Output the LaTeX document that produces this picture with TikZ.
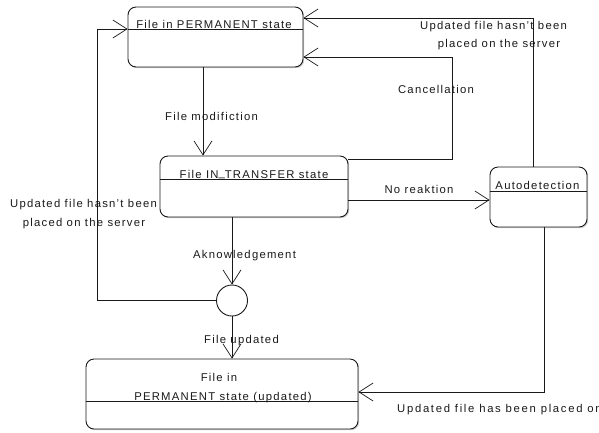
\documentclass[tikz,border=0pt]{standalone}
\usepackage{fontspec}
\setmainfont{Liberation Sans}[LetterSpace=11]
\usetikzlibrary{arrows.meta,shadows}
\begin{document}
\begin{tikzpicture}[x=1pt,y=-1pt,
  font=\fontsize{11.3}{13}\selectfont,
  state/.style={draw=black!90, line width=0.9pt, rounded corners=8pt, inner sep=0pt, fill=white,
    drop shadow={shadow xshift=1.2pt,shadow yshift=-1.2pt,fill=black!50,opacity=0.4}},
  divider/.style={draw=black!90, line width=0.8pt},
  arr/.style={draw=black!90, line width=0.8pt, -{Straight Barb[length=14pt,width=18pt,line width=0.7pt]}},
  lbl/.style={anchor=base, inner sep=0pt, text=black!90}]
\useasboundingbox (0,0) rectangle (599,432);

% helper coordinates
\coordinate (xA) at (203,0);
\coordinate (xB) at (232,0);
\coordinate (cC) at (452,57);
\coordinate (xD) at (533,0);
\coordinate (xE) at (544,0);
\coordinate (cL) at (97,29);
\coordinate (yT) at (0,18);
\coordinate (yC) at (0,159);
\coordinate (yN) at (0,200);
\coordinate (yU) at (0,392);

% states
\node[state, minimum width=175pt, minimum height=60pt] (perm) at (215.5,37) {};
\draw[divider] (perm.west |- 0,29) -- (perm.east |- 0,29);
\node[lbl] (permT) at (214,28.3) {File in PERMANENT state};

\node[state, minimum width=188pt, minimum height=61pt] (trans) at (254,186.5) {};
\draw[divider] (trans.west |- 0,179) -- (trans.east |- 0,179);
\node[lbl] (transT) at (254,178) {File IN\raisebox{1.6pt}{\_}TRANSFER state};

\node[state, minimum width=97pt, minimum height=60pt] (auto) at (538.5,197) {};
\draw[divider] (auto.west |- 0,191) -- (auto.east |- 0,191);
\node[lbl] (autoT) at (537.5,189.5) {Autodetection};

\node[state, minimum width=272pt, minimum height=70pt] (upd) at (222,394) {};
\draw[divider] (upd.west |- 0,401) -- (upd.east |- 0,401);
\node[lbl] (updT1) at (219,381.5) {File in};
\node[lbl] (updT2) at (223,400) {PERMANENT state (updated)};

\node[draw=black!90, circle, minimum size=31pt, inner sep=0pt, line width=0.9pt, fill=white] (junc) at (232,300.5) {};

% connectors
\draw[arr] (perm.south -| xA) -- (trans.north -| xA);
\draw[arr] (trans.east |- yC) -| (cC) -- (perm.east |- cC);
\draw[arr] (auto.north -| xD) |- (perm.east |- yT);
\draw[arr] (trans.east |- yN) -- (auto.west |- yN);
\draw[arr] (trans.south -| xB) -- (junc.north);
\draw[arr] (junc.west) -| (cL) -- (perm.west |- cL);
\draw[arr] (junc.south) -- (upd.north -| xB);
\draw[arr] (auto.south -| xE) |- (upd.east |- yU);

% labels
\node[lbl] (l1) at (211.5,120) {File modifiction};
\node[lbl] (l2) at (436,93) {Cancellation};
\node[lbl] (l3a) at (493.5,29) {Updated file hasn't been};
\node[lbl] (l3b) at (499,47) {placed on the server};
\node[lbl] (l4) at (419,193) {No reaktion};
\node[lbl] (l5a) at (83.5,207) {Updated file hasn't been};
\node[lbl] (l5b) at (84,226) {placed on the server};
\node[lbl] (l6) at (244.5,258) {Aknowledgement};
\node[lbl] (l7) at (241.5,343) {File updated};
\node[lbl, anchor=base west] (l8) at (397,412) {\addfontfeatures{LetterSpace=15}Updated file has been placed on};
\end{tikzpicture}
\end{document}
